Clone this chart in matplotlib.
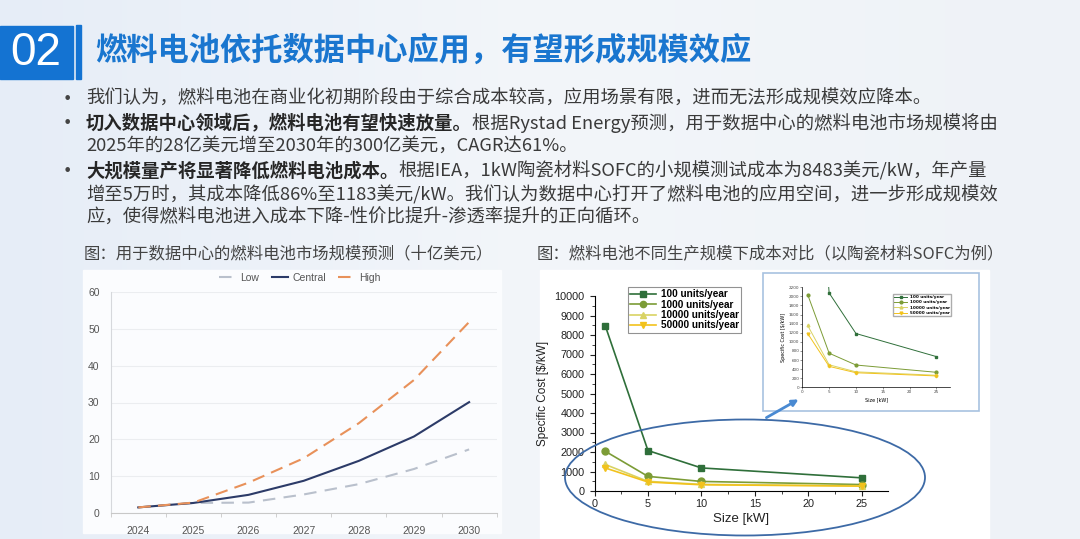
import matplotlib.pyplot as plt
import numpy as np
from matplotlib.patches import Rectangle, Ellipse, FancyArrowPatch

# Data: market forecast (billion USD)
years = ['2024', '2025', '2026', '2027', '2028', '2029', '2030']
low = [1.6, 2.8, 2.9, 5.1, 7.9, 12.0, 17.3]
central = [1.6, 2.8, 5.0, 8.8, 14.2, 20.8, 30.1]
high = [1.6, 2.9, 8.3, 14.9, 24.4, 36.1, 51.8]

# Data: SOFC specific cost ($/kW) vs size (kW)
sizes = [1, 5, 10, 25]
cost_100 = [8483, 2075, 1183, 675]
cost_1000 = [2040, 750, 490, 330]
cost_10000 = [1360, 495, 340, 265]
cost_50000 = [1183, 460, 320, 250]
series_names = ['100 units/year', '1000 units/year', '10000 units/year', '50000 units/year']

title = '燃料电池依托数据中心应用，有望形成规模效应'
cap_left = '图：用于数据中心的燃料电池市场规模预测（十亿美元）'
cap_right = '图：燃料电池不同生产规模下成本对比（以陶瓷材料SOFC为例）'

W, H = 1080, 539
fig = plt.figure(figsize=(W / 100, H / 100), dpi=100)
CJK = ['Noto Sans CJK SC', 'DejaVu Sans']


def px_axes(x0, y0, x1, y1, **kw):
    return fig.add_axes([x0 / W, 1 - y1 / H, (x1 - x0) / W, (y1 - y0) / H], **kw)


# Background
bg = px_axes(0, 0, W, H)
grad = np.linspace(0, 1, 256)[None, :] * np.ones((64, 1))
bg.imshow(grad, cmap=plt.matplotlib.colors.LinearSegmentedColormap.from_list(
    'bg', ['#e6edf7', '#f3f6fa', '#eef2f7']), extent=[0, W, H, 0], aspect='auto')
bg.set_xlim(0, W)
bg.set_ylim(H, 0)
bg.axis('off')

# Header
bg.add_patch(Rectangle((0, 26), 73, 53, color='#1473d2'))
bg.add_patch(Rectangle((76, 25), 4.5, 54, color='#1473d2'))
bg.text(36, 53, '02', color='white', fontsize=33, family='Liberation Sans',
        ha='center', va='center')
bg.text(95, 51, title, color='#1a76cf', fontsize=22.5, fontweight='bold',
        family=CJK, ha='left', va='center')

# Bullets
txt_col = '#3a3a3a'
fs = 13.2
lines = [
    (99, True, None, '我们认为，燃料电池在商业化初期阶段由于综合成本较高，应用场景有限，进而无法形成规模效应降本。'),
    (123, True, '切入数据中心领域后，燃料电池有望快速放量。',
     '根据Rystad Energy预测，用于数据中心的燃料电池市场规模将由'),
    (146, False, None, '2025年的28亿美元增至2030年的300亿美元，CAGR达61%。'),
    (171, True, '大规模量产将显著降低燃料电池成本。',
     '根据IEA，1kW陶瓷材料SOFC的小规模测试成本为8483美元/kW，年产量'),
    (195, False, None, '增至5万时，其成本降低86%至1183美元/kW。我们认为数据中心打开了燃料电池的应用空间，进一步形成规模效'),
    (218, False, None, '应，使得燃料电池进入成本下降-性价比提升-渗透率提升的正向循环。'),
]
for y, dot, bold, rest in lines:
    if dot:
        bg.text(63, y, '•', color='#444444', fontsize=11.5, family='DejaVu Sans', ha='left', va='center')
    if bold:
        t = bg.text(86, y, bold, color='#262626', fontsize=fs, fontweight='bold',
                    family=CJK, ha='left', va='center')
        bg.annotate(rest, xy=(1, 0.5), xycoords=t, color=txt_col, fontsize=fs,
                    family=CJK, ha='left', va='center')
    else:
        bg.text(86, y, rest, color=txt_col, fontsize=fs, family=CJK, ha='left', va='center')

# Captions
bg.text(84, 254, cap_left, color='#444444', fontsize=11.8, family=CJK, ha='left', va='center')
bg.text(537, 254, cap_right, color='#444444', fontsize=11.8, family=CJK, ha='left', va='center')

# Chart panels
bg.add_patch(Rectangle((83, 270), 418, 263, color='#fbfcfe'))
bg.add_patch(Rectangle((540, 270), 449, 269, color='#ffffff'))

# ---- Left chart: market forecast
ax1 = px_axes(110.7, 291.7, 496.7, 513.3)
ax1.patch.set_alpha(0)
x = np.arange(len(years))
ax1.plot(x, low, color='#b9c0cc', lw=1.5, dashes=(6, 4), label='Low')
ax1.plot(x, central, color='#2c3b68', lw=1.5, label='Central')
ax1.plot(x, high, color='#e8915a', lw=1.5, dashes=(6, 3.5), label='High')
ax1.set_xlim(-0.5, 6.5)
ax1.set_ylim(0, 60)
ax1.set_xticks(x)
ax1.set_xticklabels(years)
ax1.set_xticks(np.arange(-0.5, 7, 1), minor=True)
ax1.set_yticks(range(0, 61, 10))
ax1.yaxis.grid(True, color='#ebedf0', lw=0.8)
ax1.set_axisbelow(True)
ax1.tick_params(axis='x', which='major', length=0, pad=9, labelsize=7.5, labelcolor='#555555')
ax1.tick_params(axis='x', which='minor', length=3, color='#c8c8c8')
ax1.tick_params(axis='y', length=0, pad=8, labelsize=7.5, labelcolor='#555555')
for lab in ax1.get_xticklabels() + ax1.get_yticklabels():
    lab.set_family('Liberation Sans')
for s in ['top', 'right']:
    ax1.spines[s].set_visible(False)
ax1.spines['left'].set_color('#d6d8dc')
ax1.spines['bottom'].set_color('#c8c8c8')
ax1.legend(loc='center', bbox_to_anchor=(300 / W, 1 - 278 / H), bbox_transform=fig.transFigure,
           ncol=3, frameon=False, labelcolor='#555555', handlelength=1.6,
           handletextpad=0.4, columnspacing=1.2, prop={'family': 'Liberation Sans', 'size': 7.5})

# ---- Right chart: SOFC cost
colors = ['#2f6f3a', '#7c9c36', '#d9d364', '#f2c21c']
markers = ['s', 'o', '^', 'v']
all_costs = [cost_100, cost_1000, cost_10000, cost_50000]

ax2 = px_axes(594.5, 296, 888.5, 491)
ax2.patch.set_alpha(0)
for c, m, vals, name in zip(colors, markers, all_costs, series_names):
    ax2.plot(sizes, vals, color=c, marker=m, ms=5, lw=1.2, label=name)
ax2.set_xlim(0, 27.5)
ax2.set_ylim(0, 10000)
ax2.set_xticks([0, 5, 10, 15, 20, 25])
ax2.set_xticks(np.arange(2.5, 27.5, 5), minor=True)
ax2.set_yticks(range(0, 10001, 1000))
ax2.set_yticks(range(500, 10000, 1000), minor=True)
ax2.tick_params(which='major', length=3.5, width=0.8, labelsize=7.8, colors='#222222')
ax2.tick_params(axis='x', which='major', pad=2)
ax2.tick_params(which='minor', length=2, width=0.6, colors='#222222')
for lab in ax2.get_xticklabels() + ax2.get_yticklabels():
    lab.set_family('Liberation Sans')
for s in ['top', 'right']:
    ax2.spines[s].set_visible(False)
ax2.set_xlabel('Size [kW]', fontsize=9.5, family='Liberation Sans', color='#222222', labelpad=3)
ax2.set_ylabel('Specific Cost [$/kW]', fontsize=8.5, family='Liberation Sans', color='#222222', labelpad=4)
leg = ax2.legend(loc='upper left', bbox_to_anchor=(628 / W, 1 - 287 / H), bbox_transform=fig.transFigure,
                 prop={'family': 'Liberation Sans', 'weight': 'bold', 'size': 7.2}, fancybox=False,
                 edgecolor='#777777', handlelength=2.6, handletextpad=0.5, borderpad=0.2,
                 labelspacing=0.05, markerscale=0.9, borderaxespad=0)
leg.get_frame().set_linewidth(0.8)

# Inset box
bg.add_patch(Rectangle((763, 273), 216, 138, facecolor='white', edgecolor='#a8c2e0', lw=1.2))
ax3 = px_axes(802.3, 287.3, 949.9, 387.3)
ax3.patch.set_alpha(0)
for c, m, vals, name in zip(colors, markers, all_costs, series_names):
    ax3.plot(sizes, vals, color=c, marker=m, ms=2, lw=0.7, label=name)
ax3.set_xlim(0, 27.5)
ax3.set_ylim(0, 2200)
ax3.set_xticks([0, 5, 10, 15, 20, 25])
ax3.set_yticks(range(0, 2201, 200))
ax3.tick_params(length=1.2, width=0.4, labelsize=3, colors='#444444', pad=1)
for s in ['top', 'right']:
    ax3.spines[s].set_visible(False)
for s in ['left', 'bottom']:
    ax3.spines[s].set_linewidth(0.5)
ax3.set_xlabel('Size [kW]', fontsize=3.5, labelpad=2)
ax3.set_ylabel('Specific Cost [$/kW]', fontsize=3.5, labelpad=2)
ax3.legend(loc='upper left', bbox_to_anchor=(893 / W, 1 - 294 / H), bbox_transform=fig.transFigure,
           prop={'weight': 'bold', 'size': 3}, fancybox=False, edgecolor='#999999',
           handlelength=3, borderpad=0.3, labelspacing=0.3, borderaxespad=0)

# Overlay: ellipse and arrow
ov = px_axes(0, 0, W, H)
ov.set_xlim(0, W)
ov.set_ylim(H, 0)
ov.axis('off')
ov.patch.set_alpha(0)
ov.add_patch(Ellipse((745, 477.5), 360, 116, fill=False, edgecolor='#3d6aa6', lw=1.3))
ov.add_patch(FancyArrowPatch((764, 419), (801, 398), arrowstyle='-|>', mutation_scale=9,
                             color='#4a8ad2', lw=2))

fig.savefig('out.png', dpi=100)
